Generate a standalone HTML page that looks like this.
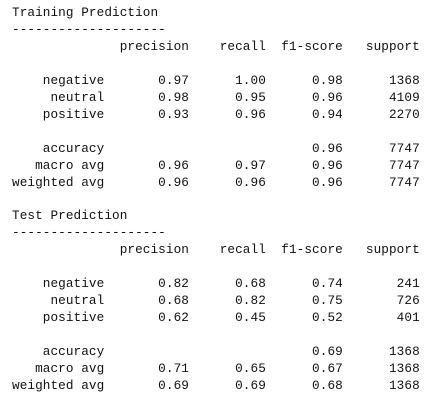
<!DOCTYPE html>
<html><head><meta charset="utf-8"><style>
html,body{margin:0;padding:0;background:#fff;width:437px;height:409px;overflow:hidden}
pre{margin:0;position:absolute;left:12px;top:5px;font-family:"Liberation Mono",monospace;font-size:12.7px;line-height:16.95px;color:#111;letter-spacing:0.08px}
</style></head><body>
<pre>Training Prediction
--------------------
              precision    recall  f1-score   support

    negative       0.97      1.00      0.98      1368
     neutral       0.98      0.95      0.96      4109
    positive       0.93      0.96      0.94      2270

    accuracy                           0.96      7747
   macro avg       0.96      0.97      0.96      7747
weighted avg       0.96      0.96      0.96      7747

Test Prediction
--------------------
              precision    recall  f1-score   support

    negative       0.82      0.68      0.74       241
     neutral       0.68      0.82      0.75       726
    positive       0.62      0.45      0.52       401

    accuracy                           0.69      1368
   macro avg       0.71      0.65      0.67      1368
weighted avg       0.69      0.69      0.68      1368</pre>
</body></html>
